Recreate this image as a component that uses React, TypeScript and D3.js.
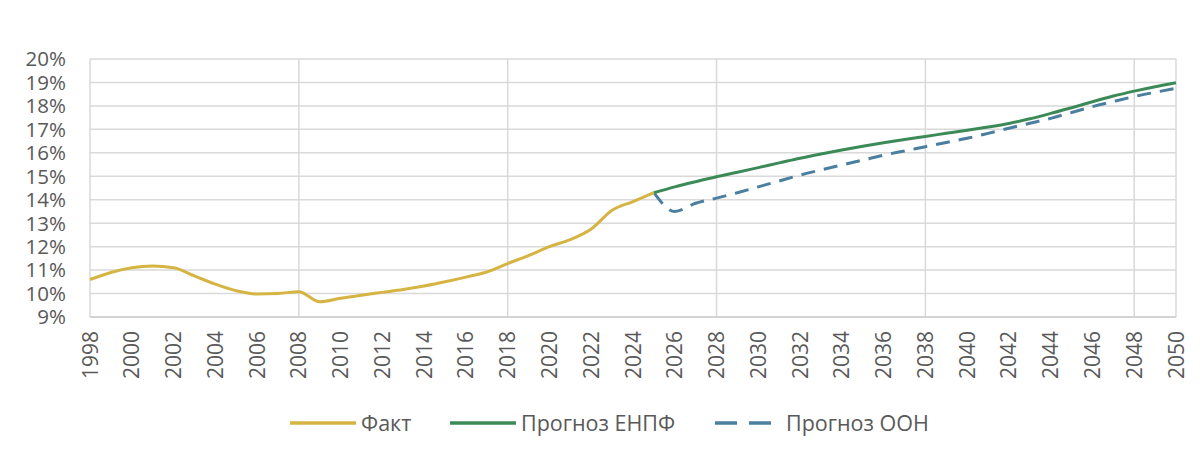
import { useEffect, useRef } from "react"
import * as d3 from "d3"

const factYears = d3.range(1998, 2026)
const factValues = [
  10.6, 10.9, 11.1, 11.17, 11.1, 10.75, 10.4, 10.12, 9.98, 10.0, 10.08, 9.65, 9.8,
  9.93, 10.05, 10.17, 10.32, 10.5, 10.7, 10.92, 11.28, 11.62, 12.0, 12.3, 12.75,
  13.55, 13.92, 14.3,
]

const forecastYears = d3.range(2025, 2051)
const enpfValues = [
  14.3, 14.55, 14.77, 14.98, 15.17, 15.37, 15.57, 15.77, 15.95, 16.12, 16.28, 16.43,
  16.57, 16.7, 16.83, 16.96, 17.1, 17.25, 17.45, 17.68, 17.92, 18.18, 18.42, 18.63,
  18.82, 18.99,
]
const unValues = [
  14.3, 13.5, 13.85, 14.07, 14.3, 14.55, 14.8, 15.05, 15.27, 15.48, 15.69, 15.9,
  16.08, 16.26, 16.44, 16.62, 16.83, 17.05, 17.26, 17.47, 17.72, 17.97, 18.19, 18.4,
  18.58, 18.75,
]

const yTicks = d3.range(9, 21)
const xTicks = d3.range(1998, 2051, 2)
const xGrid = d3.range(1998, 2051, 10)

const legendItems = [
  { label: "Факт", color: "#d6b443", dash: "" },
  { label: "Прогноз ЕНПФ", color: "#3b8a57", dash: "" },
  { label: "Прогноз ООН", color: "#4a7f9f", dash: "14,9" },
]

type Pt = { year: number; value: number }

export default function App() {
  const svgRef = useRef<SVGSVGElement>(null)

  useEffect(() => {
    if (!svgRef.current) return
    d3.select(svgRef.current).selectAll("*").remove()

    const W = 1200
    const H = 464
    const margin = { top: 59, right: 24, bottom: 147, left: 90 }
    const width = W - margin.left - margin.right
    const height = H - margin.top - margin.bottom
    const font = "'Open Sans', sans-serif"

    const root = d3.select(svgRef.current).attr("width", W).attr("height", H)
    root.append("rect").attr("width", W).attr("height", H).attr("fill", "white")

    const svg = root.append("g").attr("transform", `translate(${margin.left},${margin.top})`)

    const x = d3.scaleLinear().domain([1998, 2050]).range([0, width])
    const y = d3.scaleLinear().domain([9, 20]).range([height, 0])

    // grid
    svg
      .append("g")
      .selectAll("line")
      .data(yTicks)
      .enter()
      .append("line")
      .attr("x1", 0)
      .attr("x2", width)
      .attr("y1", (d) => y(d))
      .attr("y2", (d) => y(d))
      .attr("stroke", "#d9d9d9")
      .attr("stroke-width", 1.5)

    svg
      .append("g")
      .selectAll("line")
      .data([...xGrid, 2050])
      .enter()
      .append("line")
      .attr("x1", (d) => x(d))
      .attr("x2", (d) => x(d))
      .attr("y1", 0)
      .attr("y2", height)
      .attr("stroke", "#d9d9d9")
      .attr("stroke-width", 1.5)

    svg
      .append("line")
      .attr("x1", 0)
      .attr("x2", width)
      .attr("y1", height)
      .attr("y2", height)
      .attr("stroke", "#cfcfcf")
      .attr("stroke-width", 1.5)

    // y labels
    svg
      .append("g")
      .selectAll("text")
      .data(yTicks)
      .enter()
      .append("text")
      .attr("x", -24)
      .attr("y", (d) => y(d))
      .attr("dy", "0.36em")
      .attr("text-anchor", "end")
      .attr("font-family", font)
      .attr("font-size", 20.5)
      .attr("fill", "#595959")
      .text((d) => `${d}%`)

    // x labels
    svg
      .append("g")
      .selectAll("text")
      .data(xTicks)
      .enter()
      .append("text")
      .attr("transform", (d) => `translate(${x(d)},${height + 14}) rotate(-90)`)
      .attr("dy", "0.36em")
      .attr("text-anchor", "end")
      .attr("font-family", font)
      .attr("font-size", 21)
      .attr("fill", "#595959")
      .text((d) => String(d))

    const line = d3
      .line<Pt>()
      .x((d) => x(d.year))
      .y((d) => y(d.value))
      .curve(d3.curveMonotoneX)

    const fact = factYears.map((year, i) => ({ year, value: factValues[i] }))
    const enpf = forecastYears.map((year, i) => ({ year, value: enpfValues[i] }))
    const un = forecastYears.map((year, i) => ({ year, value: unValues[i] }))

    svg
      .append("path")
      .datum(un)
      .attr("fill", "none")
      .attr("stroke", legendItems[2].color)
      .attr("stroke-width", 3)
      .attr("stroke-dasharray", legendItems[2].dash)
      .attr("d", line)

    svg
      .append("path")
      .datum(enpf)
      .attr("fill", "none")
      .attr("stroke", legendItems[1].color)
      .attr("stroke-width", 3)
      .attr("d", line)

    svg
      .append("path")
      .datum(fact)
      .attr("fill", "none")
      .attr("stroke", legendItems[0].color)
      .attr("stroke-width", 3)
      .attr("d", line)

    // legend
    const legendX = [290, 450, 715]
    const legend = root.append("g").attr("transform", "translate(0,423)")
    legendItems.forEach((item, i) => {
      const g = legend.append("g").attr("transform", `translate(${legendX[i]},0)`)
      g.append("line")
        .attr("x1", 0)
        .attr("x2", 66)
        .attr("y1", 0)
        .attr("y2", 0)
        .attr("stroke", item.color)
        .attr("stroke-width", 3.5)
        .attr("stroke-dasharray", item.dash ? "22,12" : "")
      g.append("text")
        .attr("x", 71)
        .attr("y", 0)
        .attr("dy", "0.35em")
        .attr("font-family", font)
        .attr("font-size", 21.5)
        .attr("fill", "#595959")
        .text(item.label)
    })
  }, [])

  return (
    <div style={{ margin: -8 }}>
      <svg ref={svgRef} style={{ display: "block" }} />
    </div>
  )
}
